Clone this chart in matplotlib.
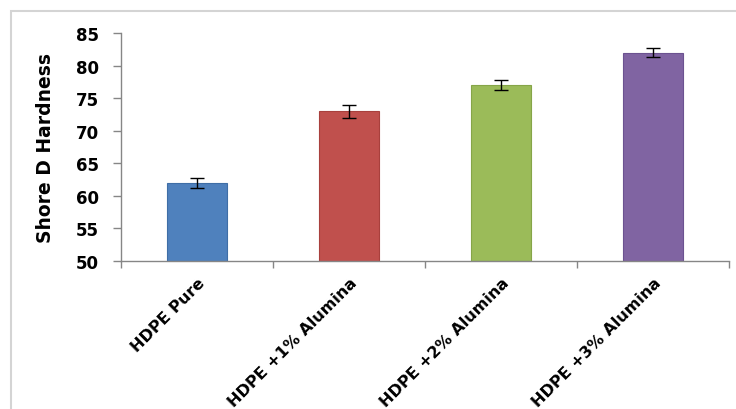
import numpy as np
import matplotlib.pyplot as plt
from matplotlib.patches import Rectangle

categories = ['HDPE Pure', 'HDPE +1% Alumina', 'HDPE +2% Alumina', 'HDPE +3% Alumina']
hardness = [62, 73, 77, 82]
errors = [0.8, 1.0, 0.75, 0.65]
colors = ['#4F81BD', '#C0504D', '#9BBB59', '#8064A2']
edges = ['#3f6ea6', '#a8403d', '#86a548', '#6c5290']
yticks = [50, 55, 60, 65, 70, 75, 80, 85]

plt.rcParams['font.family'] = ['DejaVu Sans']

fig = plt.figure(figsize=(7.36, 4.10), dpi=100)
ax = fig.add_axes([121 / 736, 148 / 410, 608 / 736, 228 / 410])

# light frame around the chart area (right/bottom run off the image)
fig.patches.append(Rectangle((11 / 736, -0.05), 1.2, (410 - 12) / 410 + 0.05,
                             transform=fig.transFigure, fill=False,
                             edgecolor='#d4d4d4', lw=1.5))

x = np.arange(len(categories))
ax.bar(x, [h - 50 for h in hardness], bottom=50, width=0.4, color=colors,
       edgecolor=edges, linewidth=0.8, zorder=2)
ax.errorbar(x, hardness, yerr=errors, fmt='none', ecolor='black',
            elinewidth=1, capsize=5, capthick=1, zorder=3)

ax.set_xlim(-0.5, len(categories) - 0.5)
ax.set_ylim(50, 85)
ax.set_yticks(yticks)
ax.set_yticklabels([str(v) for v in yticks], fontsize=12, fontweight='bold')

ax.set_xticks(x)
ax.set_xticklabels(categories, rotation=45, ha='right', rotation_mode='anchor',
                   fontsize=11.5, fontweight='bold')
ax.set_xticks(np.arange(len(categories) + 1) - 0.5, minor=True)
ax.tick_params(axis='x', which='major', length=0, pad=10)
ax.tick_params(axis='x', which='minor', length=5, color='#868686', width=1)
ax.tick_params(axis='y', length=6, color='#868686', width=1, pad=10)

for s in ['top', 'right']:
    ax.spines[s].set_visible(False)
for s in ['left', 'bottom']:
    ax.spines[s].set_color('#868686')
    ax.spines[s].set_linewidth(1)

ax.set_ylabel('Shore D Hardness', fontsize=13.5, fontweight='bold', labelpad=15)

fig.savefig('out.png', dpi=100)
